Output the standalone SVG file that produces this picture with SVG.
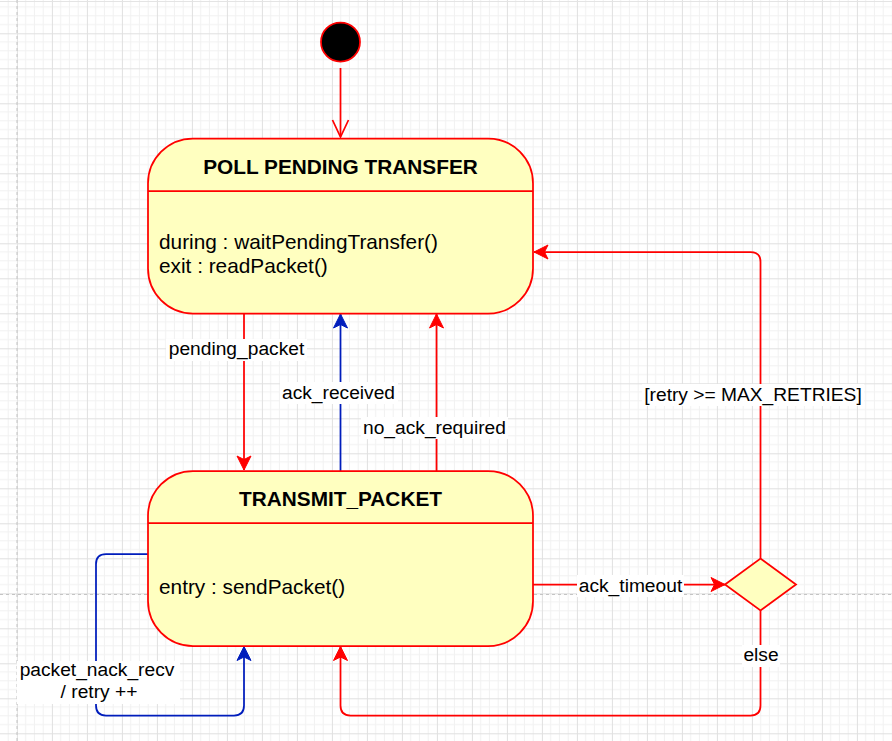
<svg xmlns="http://www.w3.org/2000/svg" width="892" height="741" viewBox="0 0 892 741">
<defs>
<pattern id="grid" patternUnits="userSpaceOnUse" x="16.9" y="-1.7" width="35" height="35">
<path d="M8.75 0V35M17.5 0V35M26.25 0V35M0 8.75H35M0 17.5H35M0 26.25H35" stroke="#f1f1f1" stroke-width="1" fill="none"/>
<path d="M0.5 0V35M0 0.5H35" stroke="#e0e0e0" stroke-width="1" fill="none"/>
</pattern>
<marker id="arR" markerUnits="userSpaceOnUse" markerWidth="15" markerHeight="15" refX="14" refY="7" orient="auto" viewBox="0 0 15 15" overflow="visible">
<path d="M14,7 L0,0 L3.5,7 L0,14 Z" fill="#ff0000" stroke="#ff0000" stroke-width="1"/>
</marker>
<marker id="arB" markerUnits="userSpaceOnUse" markerWidth="15" markerHeight="15" refX="14" refY="7" orient="auto" viewBox="0 0 15 15" overflow="visible">
<path d="M14,7 L0,0 L3.5,7 L0,14 Z" fill="#001dbc" stroke="#001dbc" stroke-width="1"/>
</marker>
</defs>
<style>
.state{fill:#ffffc0;stroke:#ff0000;stroke-width:1.75}
.div{stroke:#ff0000;stroke-width:1.75;fill:none}
.title{font-family:"Liberation Sans",Arial,sans-serif;font-weight:bold;font-size:20.8px;fill:#000;text-anchor:middle}
.body{font-family:"Liberation Sans",Arial,sans-serif;font-size:20.8px;fill:#000}
.lbl{font-family:"Liberation Sans",Arial,sans-serif;font-size:19.2px;fill:#000;text-anchor:middle}
.lbg{fill:#ffffff}
.er{stroke:#ff0000;stroke-width:1.75;fill:none;marker-end:url(#arR)}
.eb{stroke:#001dbc;stroke-width:1.75;fill:none;marker-end:url(#arB)}
</style>
<rect width="892" height="741" fill="#ffffff"/>
<rect width="892" height="741" fill="url(#grid)"/>
<path d="M0 1.5H892" stroke="#e4e4e4" stroke-width="1"/>
<path d="M17 0V741M0 594.5H892" stroke="#c4c4c4" stroke-width="1" stroke-dasharray="3,3" fill="none"/>

<g id="connectors">
<path d="M340.5 68V136.5" stroke="#ff0000" stroke-width="1.75" fill="none"/>
<path d="M332.5 120L340.5 137L348.5 120" stroke="#ff0000" stroke-width="1.75" fill="none"/>
<path class="er" d="M244 313.5V470"/>
<path class="eb" d="M340.5 471V314"/>
<path class="er" d="M436.5 471V314"/>
<path class="er" d="M533 584.5H725"/>
<path class="er" d="M760.5 558.5V262Q760.5 252 750.5 252H534"/>
<path class="er" d="M760.5 610.5V705.5Q760.5 715.5 750.5 715.5H350.5Q340.5 715.5 340.5 705.5V646.5"/>
<path class="eb" d="M148 554H106Q96 554 96 564V705.5Q96 715.5 106 715.5H234Q244 715.5 244 705.5V646.5"/>

<rect class="lbg" x="166" y="339" width="141" height="22"/>
<text class="lbl" x="236.5" y="355">pending_packet</text>
<rect class="lbg" x="280" y="382" width="118" height="22"/>
<text class="lbl" x="338.5" y="398.5">ack_received</text>
<rect class="lbg" x="361" y="417" width="147" height="22"/>
<text class="lbl" x="434.5" y="433.5">no_ack_required</text>
<rect class="lbg" x="577" y="575" width="107" height="22"/>
<text class="lbl" x="630.5" y="591.5">ack_timeout</text>
<rect class="lbg" x="642" y="384" width="222" height="22"/>
<text class="lbl" x="753" y="400.5">[retry &gt;= MAX_RETRIES]</text>
<rect class="lbg" x="742" y="645" width="38" height="22"/>
<text class="lbl" x="761" y="661">else</text>
<rect class="lbg" x="17" y="661" width="163" height="43"/>
<text class="lbl" x="97" y="676">packet_nack_recv</text>
<text class="lbl" x="99" y="698">/ retry ++</text>
</g>

<g id="initial">
<circle cx="340.5" cy="42" r="19.5" fill="#000000" stroke="#ff0000" stroke-width="1.75"/>
</g>

<g id="poll-pending-transfer">
<rect class="state" x="148" y="138.5" width="385" height="175" rx="45" ry="45"/>
<path class="div" d="M148 191H533"/>
<text class="title" x="340.5" y="174">POLL PENDING TRANSFER</text>
<text class="body" x="159" y="248.5">during : waitPendingTransfer()</text>
<text class="body" x="159" y="273">exit : readPacket()</text>
</g>

<g id="transmit-packet">
<rect class="state" x="148" y="471" width="385" height="175" rx="45" ry="45"/>
<path class="div" d="M148 523H533"/>
<text class="title" x="340.5" y="506">TRANSMIT_PACKET</text>
<text class="body" x="159" y="593.5">entry : sendPacket()</text>
</g>

<g id="choice">
<path d="M725 584.5L760.5 558.5L796 584.5L760.5 610.5Z" fill="#ffffc0" stroke="#ff0000" stroke-width="1.75"/>
</g>
</svg>
